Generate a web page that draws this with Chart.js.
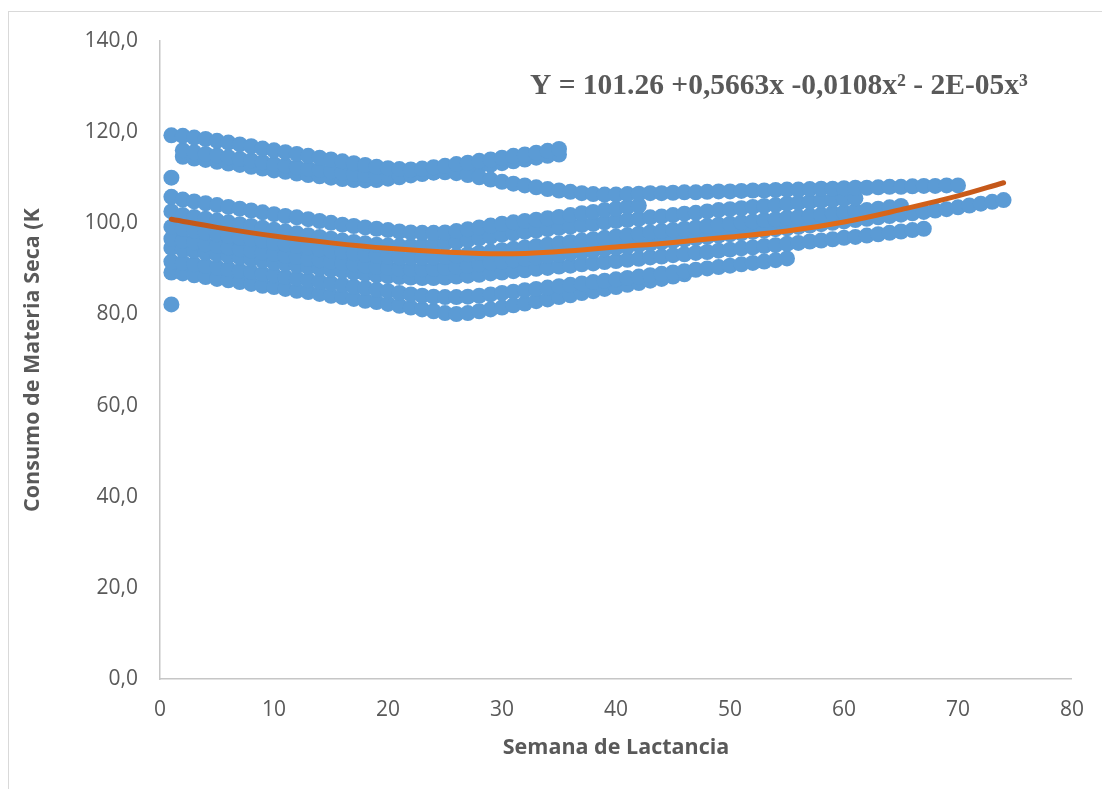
<!DOCTYPE html>
<html>
<head>
<meta charset="utf-8">
<script src="https://cdn.jsdelivr.net/npm/chart.js@4"></script>
<style>
  body { margin: 0; background: #ffffff; }
  #frame { position: absolute; left: 8px; top: 11px; width: 1200px; height: 900px;
           border-left: 1px solid #d9d9d9; border-top: 1px solid #d9d9d9; }
  #chart { position: absolute; left: 0; top: 0; }
</style>
</head>
<body>
<div id="frame"></div>
<canvas id="chart" width="1102" height="789"></canvas>
<script>
// Semana de lactancia vs consumo de materia seca, una serie por vaca
// (una semana por punto)
const vaca1Inicio = 1;
const vaca1 = [119.3, 119.2, 118.8, 118.5, 118.1, 117.7, 117.3, 116.9, 116.4, 116.0,
  115.6, 115.2, 114.8, 114.4, 114.0, 113.6, 113.2, 112.8, 112.4, 112.1,
  111.9, 111.8, 112.0, 112.3, 112.6, 113.0, 113.3, 113.7, 114.0, 114.4,
  114.8, 115.1, 115.5, 115.9, 116.3];

const vaca2Inicio = 2;
const vaca2 = [116.0, 115.6, 115.2, 114.9, 114.5, 114.1, 113.8, 113.4, 113.0, 112.7,
  112.3, 112.0, 111.7, 111.4, 111.1, 110.8, 110.6, 110.5, 110.5, 110.6,
  110.8, 111.0, 111.2, 111.2, 111.0, 110.6, 110.1, 109.6, 109.1, 108.7,
  108.3, 107.9, 107.5, 107.2, 106.9, 106.6, 106.4, 106.3, 106.3, 106.4,
  106.5, 106.6, 106.6, 106.7, 106.8, 106.8, 106.9, 107.0, 107.0, 107.1,
  107.2, 107.2, 107.3, 107.4, 107.4, 107.5, 107.6, 107.6, 107.7, 107.8,
  107.8, 107.9, 108.0, 108.0, 108.1, 108.2, 108.2, 108.3, 108.3];

const vaca3Inicio = 2;
const vaca3 = [114.6, 114.2, 113.9, 113.5, 113.1, 112.8, 112.4, 112.0, 111.6, 111.3,
  110.9, 110.6, 110.3, 110.0, 109.7, 109.5, 109.4, 109.5, 109.8, 110.1,
  110.5, 110.8, 111.1, 111.4, 111.7, 112.0, 112.4, 112.8, 113.2, 113.6,
  114.0, 114.4, 114.8, 115.1];

const vaca4Inicio = 1;
const vaca4 = [105.8, 105.2, 104.8, 104.4, 104.0, 103.6, 103.2, 102.8, 102.4, 102.0,
  101.6, 101.3, 100.9, 100.5, 100.1, 99.7, 99.4, 99.1, 98.8, 98.5,
  98.2, 98.0, 97.9, 97.9, 98.0, 98.3, 98.7, 99.1, 99.5, 99.9,
  100.2, 100.5, 100.8, 101.1, 101.4, 101.8, 102.2, 102.5, 102.9, 103.2,
  103.6, 103.9];

const vaca5Inicio = 1;
const vaca5 = [102.6, 101.8, 101.4, 101.0, 100.6, 100.2, 99.8, 99.4, 99.0, 98.6,
  98.2, 97.8, 97.4, 97.0, 96.6, 96.2, 95.9, 95.6, 95.3, 95.1,
  95.0, 95.0, 95.1, 95.3, 95.6, 95.9, 96.3, 96.7, 97.1, 97.5,
  97.8, 98.1, 98.4, 98.7, 99.0, 99.3, 99.6, 99.9, 100.2, 100.5,
  100.7, 101.0, 101.3, 101.5, 101.8, 102.1, 102.3, 102.6, 102.9, 103.1,
  103.3, 103.6, 103.8, 104.0, 104.3, 104.5, 104.7, 104.9, 105.1, 105.3,
  105.5];

const vaca6Inicio = 1;
const vaca6 = [99.2, 98.8, 98.4, 98.0, 97.6, 97.2, 96.8, 96.5, 96.1, 95.7,
  95.4, 95.0, 94.7, 94.3, 94.0, 93.7, 93.4, 93.1, 92.9, 92.7,
  92.5, 92.4, 92.4, 92.5, 92.7, 92.9, 93.2, 93.5, 93.8, 94.1,
  94.4, 94.7, 95.0, 95.3, 95.6, 95.9, 96.2, 96.5, 96.8, 97.1,
  97.4, 97.7, 98.0, 98.3, 98.5, 98.8, 99.1, 99.4, 99.7, 99.9,
  100.2, 100.4, 100.7, 100.9, 101.2, 101.4, 101.7, 101.9, 102.2, 102.4,
  102.7, 102.9, 103.2, 103.5, 103.8];

const vaca7Inicio = 1;
const vaca7 = [96.6, 96.2, 95.8, 95.4, 95.1, 94.7, 94.3, 94.0, 93.6, 93.3,
  92.9, 92.6, 92.2, 91.9, 91.6, 91.3, 91.0, 90.7, 90.4, 90.2,
  90.0, 89.9, 89.9, 90.0, 90.2, 90.4, 90.7, 91.0, 91.3, 91.6,
  91.9, 92.2, 92.5, 92.8, 93.1, 93.4, 93.7, 94.0, 94.3, 94.6,
  94.9, 95.2, 95.5, 95.8, 96.1, 96.4, 96.7, 97.0, 97.3, 97.6,
  97.8, 98.1, 98.4, 98.7, 98.9, 99.2, 99.5, 99.8, 100.1, 100.4,
  100.7, 101.0, 101.3, 101.6, 101.9, 102.2, 102.5, 102.8, 103.1, 103.5,
  103.9, 104.3, 104.7, 105.1];

const vaca8Inicio = 1;
const vaca8 = [94.6, 94.2, 93.9, 93.5, 93.2, 92.8, 92.5, 92.1, 91.8, 91.4,
  91.1, 90.7, 90.4, 90.1, 89.8, 89.5, 89.2, 88.9, 88.6, 88.4,
  88.2, 88.1, 88.0, 88.0, 88.1, 88.3, 88.5, 88.7, 89.0, 89.2,
  89.5, 89.7, 90.0, 90.2, 90.5, 90.7, 91.0, 91.2, 91.5, 91.7,
  92.0, 92.2, 92.5, 92.7, 93.0, 93.2, 93.5, 93.7, 94.0, 94.2,
  94.5, 94.7, 95.0, 95.2, 95.5, 95.7, 96.0, 96.2, 96.5, 96.8,
  97.0, 97.3, 97.6, 97.9, 98.2, 98.5, 98.8];

const vaca9Inicio = 1;
const vaca9 = [91.6, 91.4, 91.0, 90.7, 90.3, 90.0, 89.6, 89.3, 88.9, 88.6,
  88.2, 87.9, 87.5, 87.2, 86.8, 86.5, 86.1, 85.8, 85.4, 85.1,
  84.7, 84.4, 84.1, 83.9, 83.8, 83.8, 83.9, 84.1, 84.4, 84.7,
  85.0, 85.3, 85.6, 85.9, 86.2, 86.5, 86.8, 87.1, 87.4, 87.7,
  88.0, 88.3, 88.6, 88.9, 89.2, 89.5, 89.8, 90.1, 90.4, 90.7,
  91.0, 91.3, 91.6, 91.9, 92.3];

const vaca10Inicio = 1;
const vaca10 = [89.2, 89.0, 88.6, 88.2, 87.8, 87.5, 87.1, 86.7, 86.3, 86.0,
  85.6, 85.2, 84.9, 84.5, 84.1, 83.8, 83.4, 83.0, 82.7, 82.3,
  81.9, 81.5, 81.1, 80.7, 80.3, 80.1, 80.3, 80.7, 81.1, 81.5,
  82.0, 82.4, 82.9, 83.3, 83.8, 84.2, 84.7, 85.1, 85.6, 86.0,
  86.5, 86.9, 87.4, 87.8, 88.3, 88.8];

// registros sueltos de la semana 1
const sueltosSemana1 = [110.0, 82.2];

// curva de tendencia (polinomica)
const tendenciaSemanas = [1, 5, 10, 15, 20, 25, 30, 35, 40, 45, 50, 55, 60, 65, 70, 74];
const tendenciaValores = [100.9, 99.1, 97.2, 95.7, 94.5, 93.7, 93.3, 93.8, 94.8, 95.8,
  97.0, 98.3, 100.3, 103.0, 106.0, 108.9];

const yTickLabels = ['0,0', '20,0', '40,0', '60,0', '80,0', '100,0', '120,0', '140,0'];
const ecuacion = 'Y = 101.26 +0,5663x -0,0108x\u00B2 - 2E-05x\u00B3';

const vacas = [
  [vaca1Inicio, vaca1], [vaca2Inicio, vaca2], [vaca3Inicio, vaca3], [vaca4Inicio, vaca4],
  [vaca5Inicio, vaca5], [vaca6Inicio, vaca6], [vaca7Inicio, vaca7], [vaca8Inicio, vaca8],
  [vaca9Inicio, vaca9], [vaca10Inicio, vaca10]
];

const azul = '#5B9BD5';
const radio = 8;
const fuente = '"Open Sans", "Liberation Sans", sans-serif';

const datasets = vacas.map(([inicio, valores]) => ({
  data: valores.map((v, i) => ({ x: inicio + i, y: v })),
  backgroundColor: azul,
  borderWidth: 0,
  pointRadius: radio,
  pointHoverRadius: radio,
  order: 2
}));

datasets.push({
  data: sueltosSemana1.map(v => ({ x: 1, y: v })),
  backgroundColor: azul,
  borderWidth: 0,
  pointRadius: radio,
  pointHoverRadius: radio,
  order: 2
});

// linea de tendencia con degradado naranja
datasets.push({
  data: tendenciaSemanas.map((s, i) => ({ x: s, y: tendenciaValores[i] })),
  showLine: true,
  pointRadius: 0,
  borderWidth: 5,
  tension: 0.4,
  borderCapStyle: 'round',
  borderColor: (context) => {
    const chart = context.chart;
    const area = chart.chartArea;
    if (!area) return '#D9641A';
    const g = chart.ctx.createLinearGradient(area.left, 0, area.right, 0);
    g.addColorStop(0, '#C0561A');
    g.addColorStop(0.3, '#E46D18');
    g.addColorStop(0.72, '#E46D18');
    g.addColorStop(0.93, '#C2561A');
    return g;
  },
  order: 0
});

const ecuacionPlugin = {
  id: 'ecuacion',
  afterDraw(chart) {
    const c = chart.ctx;
    c.save();
    c.font = 'bold 29.5px "Liberation Serif", "Times New Roman", serif';
    c.fillStyle = '#595959';
    c.textBaseline = 'alphabetic';
    c.textAlign = 'left';
    c.fillText(ecuacion, 530, 94);
    c.restore();
  }
};

new Chart(document.getElementById('chart'), {
  type: 'scatter',
  data: { datasets },
  options: {
    responsive: false,
    animation: false,
    layout: { padding: { left: 0, top: 41, right: 28, bottom: 0 } },
    plugins: {
      legend: { display: false },
      tooltip: { enabled: false }
    },
    scales: {
      x: {
        type: 'linear',
        min: 0,
        max: 80,
        afterFit: (s) => { s.height = 110; },
        ticks: { stepSize: 10, color: '#595959', padding: 18, font: { family: fuente, size: 21 } },
        grid: { display: false, drawTicks: false },
        border: { color: '#c6c6c6', width: 1.5 },
        title: {
          display: true,
          text: 'Semana de Lactancia',
          color: '#595959',
          font: { family: fuente, size: 21.5, weight: 'bold' },
          padding: { top: 28, bottom: 28 }
        }
      },
      y: {
        min: 0,
        max: 140,
        afterFit: (s) => { s.width = 160; },
        ticks: {
          stepSize: 20,
          color: '#595959',
          padding: 22,
          font: { family: fuente, size: 21 },
          callback: (value) => yTickLabels[Math.round(value / 20)]
        },
        grid: { display: false, drawTicks: false },
        border: { color: '#c6c6c6', width: 1.5 },
        title: {
          display: true,
          text: 'Consumo de Materia Seca (K',
          color: '#595959',
          font: { family: fuente, size: 21.5, weight: 'bold' },
          padding: { top: 20, bottom: 20 }
        }
      }
    }
  },
  plugins: [ecuacionPlugin]
});
</script>
</body>
</html>
